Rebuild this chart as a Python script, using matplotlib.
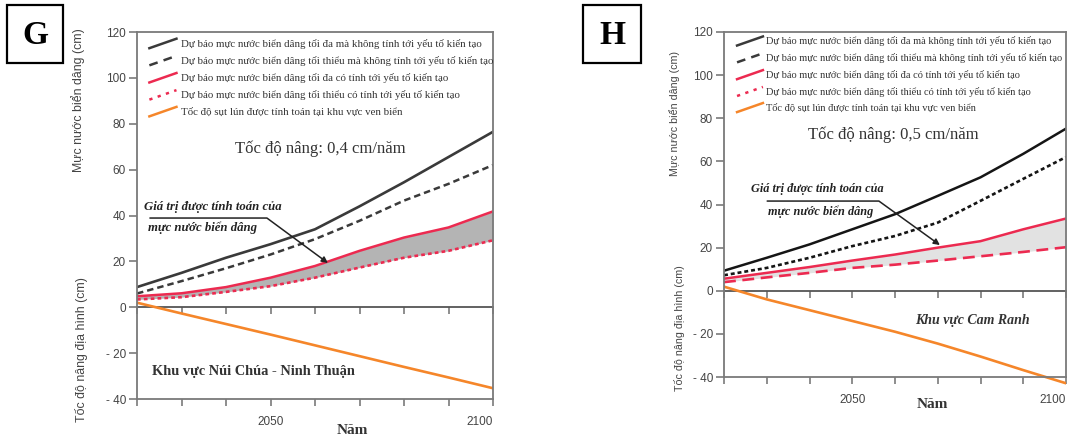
import matplotlib
matplotlib.use("Agg")
import matplotlib.pyplot as plt
from matplotlib.lines import Line2D
from matplotlib.patches import Rectangle
from matplotlib.legend_handler import HandlerLine2D

# ---------------- data ----------------
years = [2020, 2030, 2040, 2050, 2060, 2070, 2080, 2090, 2100]
xtick_labels = ["", "", "", "2050", "", "", "", "", "2100"]
ytick_values = [-40, -20, 0, 20, 40, 60, 80, 100, 120]
ytick_labels = ["- 40", "- 20", "0", "20", "40", "60", "80", "100", "120"]

legend_labels = [
    "Dự báo mực nước biển dâng tối đa mà không tính tới yếu tố kiến tạo",
    "Dự báo mực nước biển dâng tối thiểu mà không tính tới yếu tố kiến tạo",
    "Dự báo mực nước biển dâng tối đa có tính tới yếu tố kiến tạo",
    "Dự báo mực nước biển dâng tối thiểu có tính tới yếu tố kiến tạo",
    "Tốc độ sụt lún được tính toán tại khu vực ven biển",
]

# Panel G (Núi Chúa - Ninh Thuận)
g_max_no_tect = [8.8, 15.0, 21.6, 27.5, 34.0, 44.0, 54.5, 65.5, 76.5]
g_min_no_tect = [6.0, 11.4, 17.0, 23.0, 29.7, 37.7, 46.5, 53.8, 62.0]
g_max_tect = [4.8, 6.1, 8.8, 12.9, 18.0, 24.6, 30.4, 34.8, 41.8]
g_min_tect = [3.4, 4.4, 6.7, 9.2, 12.9, 17.3, 21.6, 24.6, 29.2]
g_subsidence = [2.0, -2.7, -7.3, -11.9, -16.6, -21.3, -26.0, -30.6, -35.3]

# Panel H (Cam Ranh)
h_max_no_tect = [9.3, 15.3, 21.5, 28.5, 35.5, 44.0, 52.6, 63.5, 75.2]
h_min_no_tect = [7.2, 10.6, 15.3, 20.7, 25.4, 31.6, 41.7, 51.9, 62.0]
h_max_tect = [5.6, 8.3, 11.0, 14.0, 16.8, 20.0, 23.0, 28.5, 33.5]
h_min_tect = [4.0, 6.2, 8.3, 10.6, 12.1, 14.0, 16.0, 18.0, 20.2]
h_subsidence = [1.9, -4.0, -9.0, -14.0, -19.0, -24.5, -30.5, -36.8, -42.9]

# ---------------- style ----------------
SERIF = "Liberation Serif"
SANS = "Liberation Sans"
BLACK_G = "#3a3a3a"
BLACK_H = "#151515"
RED = "#ec2a50"
ORANGE = "#f5862a"
SPINE = "#7a7a7a"
TXT = "#444444"

YMIN, YMAX = -45, 120


class SlantHandler(HandlerLine2D):
    def create_artists(self, legend, orig_handle, xdescent, ydescent,
                       width, height, fontsize, trans):
        line = Line2D([-xdescent, width - xdescent],
                      [-ydescent - 0.15 * height, 1.1 * height - ydescent])
        self.update_prop(line, orig_handle, legend)
        line.set_marker("")
        line.set_transform(trans)
        return [line]


def style_axes(ax):
    ax.set_xlim(years[0], years[-1])
    ax.set_ylim(YMIN, YMAX)
    for s in ["left", "right", "top", "bottom"]:
        ax.spines[s].set_color(SPINE)
        ax.spines[s].set_linewidth(1.3)
    ax.spines["left"].set_bounds(-40, 120)
    ax.spines["right"].set_bounds(-40, 120)
    ax.spines["bottom"].set_position(("data", -40))
    ax.set_yticks(ytick_values)
    ax.set_yticklabels(ytick_labels, fontfamily=SANS, fontsize=8.5, color=TXT)
    ax.set_xticks(years)
    ax.set_xticklabels(xtick_labels, fontfamily=SANS, fontsize=8.5, color=TXT)
    ax.get_xticklabels()[-1].set_horizontalalignment("right")
    ax.tick_params(axis="y", length=6, width=1.2, color=SPINE, pad=2)
    ax.tick_params(axis="x", length=5, width=1.2, color=SPINE, pad=7)
    # zero line with its own downward ticks
    loc0 = (0 - YMIN) / (YMAX - YMIN)
    sec = ax.secondary_xaxis(loc0)
    sec.set_xticks(years)
    sec.tick_params(axis="x", length=5, width=1.2, color=SPINE,
                    labelbottom=False, labeltop=False)
    for s in sec.spines.values():
        s.set_color("#555555")
        s.set_linewidth(1.3)


def legend_handles(black):
    return [
        Line2D([], [], color=black, lw=1.8),
        Line2D([], [], color=black, lw=1.8, dashes=(3.5, 2.5)),
        Line2D([], [], color=RED, lw=1.8),
        Line2D([], [], color=RED, lw=1.8, dashes=(1.3, 2.2)),
        Line2D([], [], color=ORANGE, lw=1.8),
    ]


fig = plt.figure(figsize=(10.68, 4.40), dpi=100)
W, H = 1068.0, 440.0

# ================= Panel G =================
axg = fig.add_axes([137 / W, 1 - 410.5 / H, 356 / W, 378.5 / H])
style_axes(axg)
axg.fill_between(years, g_min_tect, g_max_tect, color="#b4b4b4", lw=0)
axg.plot(years, g_max_no_tect, color=BLACK_G, lw=1.9)
axg.plot(years, g_min_no_tect, color=BLACK_G, lw=1.8, dashes=(2.6, 1.6))
axg.plot(years, g_max_tect, color=RED, lw=1.8)
axg.plot(years, g_min_tect, color=RED, lw=1.9, dashes=(1.4, 1.2))
axg.plot(years, g_subsidence, color=ORANGE, lw=1.9)

leg = axg.legend(legend_handles(BLACK_G), legend_labels, loc="upper left",
                 bbox_to_anchor=(0.015, 1.0), frameon=False,
                 prop={"family": SERIF, "size": 7.8}, handlelength=2.5,
                 handletextpad=0.4, labelspacing=0.66, borderaxespad=0.25,
                 handler_map={Line2D: SlantHandler()})
for t in leg.get_texts():
    t.set_color("#333333")

axg.text(2061.1, 69, "Tốc độ nâng: 0,4 cm/năm", family=SERIF, fontsize=12,
         ha="center", va="center", color="#333333")
axg.text(2037.1, 43.7, "Giá trị được tính toán của", family=SERIF, fontsize=9.2,
         fontweight="bold", fontstyle="italic", ha="center", va="center", color="#222222")
axg.text(2034.8, 34.6, "mực nước biển dâng", family=SERIF, fontsize=9.2,
         fontweight="bold", fontstyle="italic", ha="center", va="center", color="#222222")
axg.annotate("", xy=(2062.9, 19.3), xytext=(2022.9, 38.9),
             arrowprops=dict(arrowstyle="-|>", color="#222222", lw=1.1,
                             connectionstyle="angle,angleA=0,angleB=-36.4,rad=0",
                             shrinkA=0, shrinkB=0, mutation_scale=9))
axg.text(2046.1, -27.8, "Khu vực Núi Chúa - Ninh Thuận", family=SERIF, fontsize=10.4,
         fontweight="bold", ha="center", va="center", color="#333333")

fig.text(78 / W, 1 - 100 / H, "Mực nước biển dâng (cm)", rotation=90, family=SANS,
         fontsize=8.9, color=TXT, ha="center", va="center")
fig.text(82 / W, 1 - 350 / H, "Tốc độ nâng địa hình (cm)", rotation=90, family=SANS,
         fontsize=8.9, color=TXT, ha="center", va="center")
fig.text(352 / W, 1 - 430 / H, "Năm", family=SERIF, fontsize=11, fontweight="bold",
         color="#333333", ha="center", va="center")

fig.add_artist(Rectangle((7 / W, 1 - 63 / H), 56 / W, 58 / H, transform=fig.transFigure,
                         fill=False, lw=1.6, ec="black"))
fig.text(35 / W, 1 - 35 / H, "G", family=SERIF, fontsize=24, fontweight="bold",
         ha="center", va="center")

# ================= Panel H =================
axh = fig.add_axes([724 / W, 1 - 387.8 / H, 342 / W, 355.8 / H])
style_axes(axh)
axh.fill_between(years, h_min_tect, h_max_tect, color="#e2e2e2", lw=0)
axh.plot(years, h_max_no_tect, color=BLACK_H, lw=1.8)
axh.plot(years, h_min_no_tect, color=BLACK_H, lw=1.9, dashes=(1.5, 1.1))
axh.plot(years, h_max_tect, color=RED, lw=1.8)
axh.plot(years, h_min_tect, color=RED, lw=1.9, dashes=(4.5, 2.5))
axh.plot(years, h_subsidence, color=ORANGE, lw=1.9)

leg = axh.legend(legend_handles(BLACK_G), legend_labels, loc="upper left",
                 bbox_to_anchor=(0.02, 1.005), frameon=False,
                 prop={"family": SERIF, "size": 7.45}, handlelength=2.5,
                 handletextpad=0.3, labelspacing=0.66, borderaxespad=0.2,
                 handler_map={Line2D: SlantHandler()})
for t in leg.get_texts():
    t.set_color("#333333")

axh.text(2059.6, 72.2, "Tốc độ nâng: 0,5 cm/năm", family=SERIF, fontsize=12,
         ha="center", va="center", color="#333333")
axh.text(2041.9, 47.2, "Giá trị được tính toán của", family=SERIF, fontsize=8.8,
         fontweight="bold", fontstyle="italic", ha="center", va="center", color="#222222")
axh.text(2042.6, 36.5, "mực nước biển dâng", family=SERIF, fontsize=8.8,
         fontweight="bold", fontstyle="italic", ha="center", va="center", color="#222222")
axh.annotate("", xy=(2070.5, 21.2), xytext=(2030.1, 41.6),
             arrowprops=dict(arrowstyle="-|>", color="#222222", lw=1.1,
                             connectionstyle="angle,angleA=0,angleB=-35.8,rad=0",
                             shrinkA=0, shrinkB=0, mutation_scale=9))
axh.text(2078.0, -14.0, "Khu vực Cam Ranh", family=SERIF, fontsize=10,
         fontweight="bold", fontstyle="italic", ha="center", va="center", color="#333333")

fig.text(675 / W, 1 - 113 / H, "Mực nước biển dâng (cm)", rotation=90, family=SANS,
         fontsize=7.7, color=TXT, ha="center", va="center")
fig.text(679 / W, 1 - 328 / H, "Tốc độ nâng địa hình (cm)", rotation=90, family=SANS,
         fontsize=7.7, color=TXT, ha="center", va="center")
fig.text(932 / W, 1 - 404 / H, "Năm", family=SERIF, fontsize=11, fontweight="bold",
         color="#333333", ha="center", va="center")

fig.add_artist(Rectangle((583 / W, 1 - 63 / H), 58 / W, 58 / H, transform=fig.transFigure,
                         fill=False, lw=1.6, ec="black"))
fig.text(612 / W, 1 - 35 / H, "H", family=SERIF, fontsize=24, fontweight="bold",
         ha="center", va="center")

fig.savefig("out.png", dpi=100, facecolor="white")
